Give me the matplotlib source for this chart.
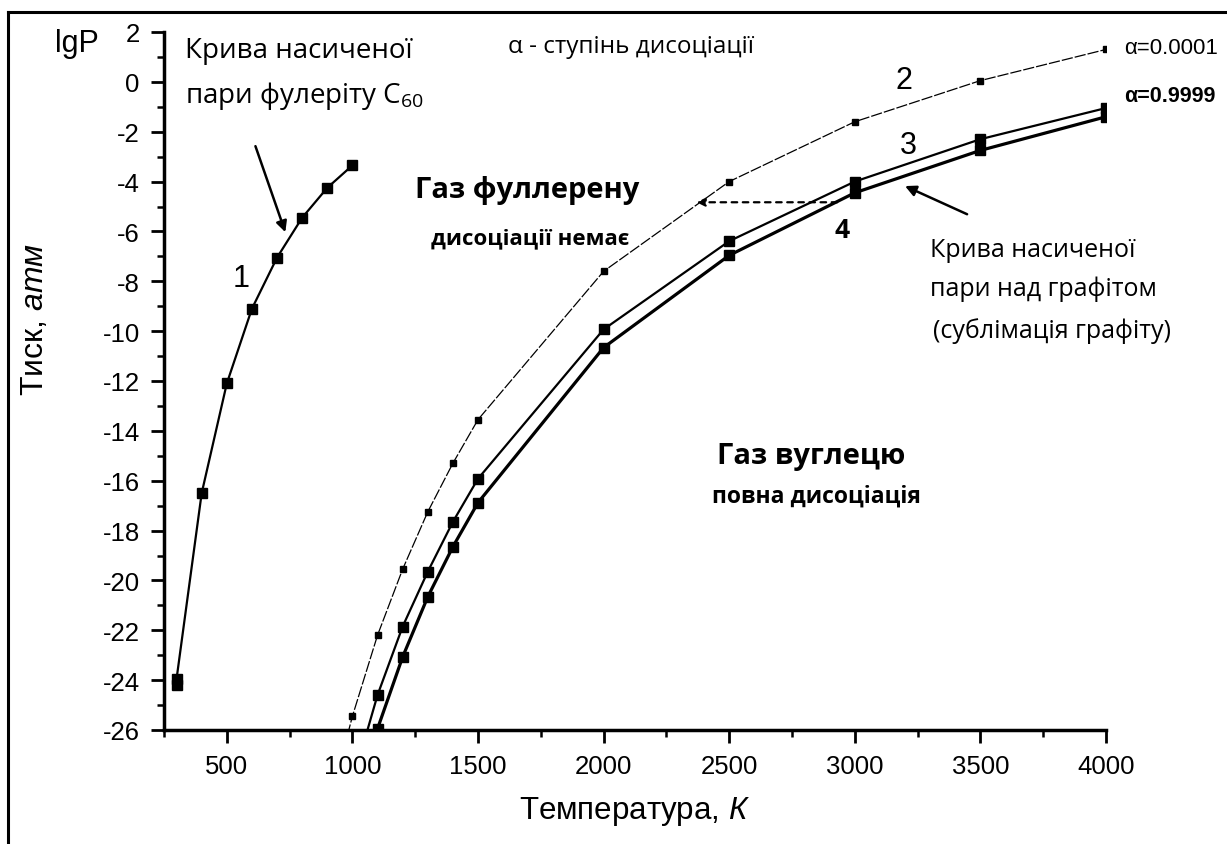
import matplotlib
matplotlib.use("Agg")
import matplotlib.pyplot as plt
from matplotlib.lines import Line2D
from matplotlib.ticker import MultipleLocator

plt.rcParams["font.family"] = ["Liberation Sans", "DejaVu Sans"]
plt.rcParams["axes.unicode_minus"] = False
plt.rcParams["mathtext.fontset"] = "custom"
plt.rcParams["mathtext.rm"] = "Open Sans"
plt.rcParams["mathtext.it"] = "Liberation Sans:italic"

# Saturated vapour of C60 fullerite (curve 1)
T_c60 = [300, 300, 400, 500, 600, 700, 800, 900, 1000]
lgP_c60 = [-24.2, -23.95, -16.5, -12.1, -9.1, -7.05, -5.45, -4.25, -3.35]

# Carbon gas curves: 2 - alpha=0.0001, 3 - alpha=0.9999, 4 - vapour over graphite
T_2 = [900, 1000, 1100, 1200, 1300, 1400, 1500, 2000, 2500, 3000, 3500, 4000]
lgP_2 = [-29.3, -25.45, -22.2, -19.55, -17.25, -15.3, -13.55, -7.6, -4.0, -1.6, 0.05, 1.3]

T_34 = [1000, 1100, 1200, 1300, 1400, 1500, 2000, 2500, 3000, 3500, 4000]
lgP_3 = [-28.1, -24.6, -21.85, -19.65, -17.65, -15.92, -9.93, -6.39, -4.0, -2.3, -1.05]
lgP_4 = [-29.6, -25.95, -23.07, -20.66, -18.65, -16.88, -10.66, -6.96, -4.45, -2.75, -1.4]

# Horizontal guide from the graphite curve to curve 2
guide_lgP = -4.83
guide_T = [2930, 2370]

W, H = 1227, 845
fig = plt.figure(figsize=(W / 100, H / 100), dpi=100)
fig.patch.set_facecolor("white")

ax = fig.add_axes([164 / W, 1 - 731 / H, (1106 - 164) / W, (731 - 33) / H])
ax.set_xlim(250, 4000)
ax.set_ylim(-26, 2)

ax.plot(T_c60, lgP_c60, color="black", lw=1.6, marker="s", ms=6.5, mfc="black", mec="black")
ax.plot(T_2, lgP_2, color="black", lw=0.9, ls=(0, (9, 1.6)), marker="s", ms=4, mfc="black", mec="black")
ax.plot(T_34, lgP_3, color="black", lw=1.6, marker="s", ms=6.5, mfc="black", mec="black")
ax.plot(T_34, lgP_4, color="black", lw=2.3, marker="s", ms=6.5, mfc="black", mec="black")

# dashed guide with arrowhead
ax.annotate("", xy=(guide_T[1], guide_lgP), xytext=(guide_T[0], guide_lgP),
            arrowprops=dict(arrowstyle="-|>", color="black", lw=1.6, ls=(0, (2.5, 2.5)),
                            mutation_scale=12, shrinkA=0, shrinkB=0))

# arrows pointing at the saturation curves
ax.annotate("", xy=(733, -6.03), xytext=(614, -2.58),
            arrowprops=dict(arrowstyle="-|>", color="black", lw=1.8,
                            mutation_scale=16, shrinkA=0, shrinkB=0))
ax.annotate("", xy=(3200, -4.18), xytext=(3447, -5.31),
            arrowprops=dict(arrowstyle="-|>", color="black", lw=1.8,
                            mutation_scale=16, shrinkA=0, shrinkB=0))

for side in ("top", "right"):
    ax.spines[side].set_visible(False)
for side in ("left", "bottom"):
    ax.spines[side].set_linewidth(2.5)

ax.xaxis.set_major_locator(MultipleLocator(500))
ax.xaxis.set_minor_locator(MultipleLocator(250))
ax.yaxis.set_major_locator(MultipleLocator(2))
ax.yaxis.set_minor_locator(MultipleLocator(1))
ax.set_xticks([500, 1000, 1500, 2000, 2500, 3000, 3500, 4000])
ax.tick_params(which="major", direction="out", length=9.5, width=2, labelsize=18.5, pad=8)
ax.tick_params(which="minor", direction="out", length=5, width=1.8)


def put(px, py, s, **kw):
    fig.text(px / W, 1 - py / H, s, **kw)


calib = ["Open Sans", "DejaVu Sans"]

# axis titles
put(634, 812, r"Температура, $\it{К}$", fontsize=22.5, ha="center", va="center")
put(35, 320, r"Тиск, $\it{атм}$", fontsize=23, ha="center", va="center", rotation=90)
put(77, 44, "lgP", fontsize=22, ha="center", va="center")

# curve numbers
put(241, 279, "1", fontsize=22, ha="center", va="center")
put(904, 81, "2", fontsize=22, ha="center", va="center")
put(908, 146, "3", fontsize=22, ha="center", va="center")
put(842, 231, "4", fontsize=19, ha="center", va="center", family=calib, weight="bold")

# annotations
put(185, 58, "Крива насиченої", fontsize=20, ha="left", va="baseline", family=calib)
put(185, 103, r"пари фулеріту С$_{60}$", fontsize=20, ha="left", va="baseline", family=calib)
put(631, 53, "α - ступінь дисоціації", fontsize=17.5, ha="center", va="baseline", family=calib)

put(527, 198, "Газ фуллерену", fontsize=21, ha="center", va="baseline", family=calib, weight="bold")
put(530, 244, "дисоціації немає", fontsize=16, ha="center", va="baseline", family=calib, weight="bold")
put(811, 464, "Газ вуглецю", fontsize=21, ha="center", va="baseline", family=calib, weight="bold")
put(816, 503, "повна дисоціація", fontsize=16.5, ha="center", va="baseline", family=calib, weight="bold")

put(930, 257, "Крива насиченої", fontsize=18, ha="left", va="baseline", family=calib)
put(930, 296, "пари над графітом", fontsize=18, ha="left", va="baseline", family=calib)
put(933, 338, "(сублімація графіту)", fontsize=18, ha="left", va="baseline", family=calib)

put(1124, 48, "α=0.0001", fontsize=16, ha="left", va="center")
put(1124, 97, "α=0.9999", fontsize=15.5, ha="left", va="center", weight="bold")

# outer frame (left and top edges)
fig.add_artist(Line2D([8 / W, 8 / W], [0, 1 - 13 / H], color="black", lw=2.2, transform=fig.transFigure))
fig.add_artist(Line2D([8 / W, 1], [1 - 13 / H, 1 - 13 / H], color="black", lw=2.2, transform=fig.transFigure))

fig.savefig("out.png", dpi=100)
